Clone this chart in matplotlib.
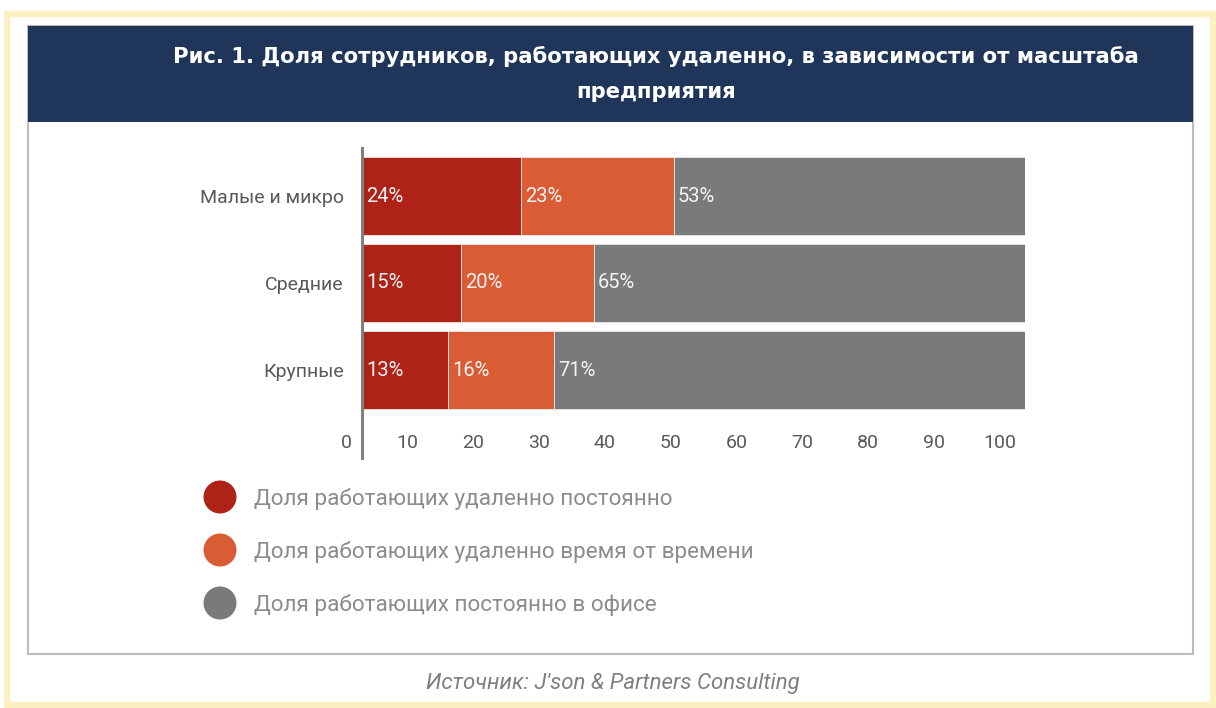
import numpy as np
import matplotlib.pyplot as plt
from matplotlib.patches import Rectangle, Ellipse

plt.rcParams['font.family'] = ['Liberation Sans Narrow', 'Roboto', 'DejaVu Sans']

# data
categories = ["Малые и микро", "Средние", "Крупные"]
remote_always = [24, 15, 13]
remote_sometimes = [23, 20, 16]
office_always = [53, 65, 71]
series_names = ["Доля работающих удаленно постоянно",
                "Доля работающих удаленно время от времени",
                "Доля работающих постоянно в офисе"]
tick_labels = ["0", "10", "20", "30", "40", "50", "60", "70", "80", "90", "100"]
title = "Рис. 1. Доля сотрудников, работающих удаленно, в зависимости от масштаба\nпредприятия"
source = "Источник: J'son & Partners Consulting"

colors = ["#AF2218", "#D95C35", "#7A7A7A"]
W, H = 1216, 708

fig = plt.figure(figsize=(W / 100, H / 100), dpi=100)
fig.patch.set_facecolor("white")

def fx(p):
    return p / W

def fy(p):
    return 1 - p / H

# outer yellow frame
fig.add_artist(Rectangle((fx(7), fy(705)), fx(1213) - fx(7), fy(14) - fy(705),
                         transform=fig.transFigure, fill=False, zorder=-10,
                         edgecolor="#FCEFC1", linewidth=4.5))
# gray box + title bar
fig.add_artist(Rectangle((fx(28), fy(654)), fx(1193) - fx(28), fy(26) - fy(654),
                         transform=fig.transFigure, facecolor="white", zorder=-10,
                         edgecolor="#BDBDBD", linewidth=1.5))
fig.add_artist(Rectangle((fx(28), fy(122)), fx(1193) - fx(28), fy(26) - fy(122),
                         transform=fig.transFigure, facecolor="#1F365A", zorder=-9,
                         edgecolor="#1F365A", linewidth=0))
fig.text(fx(656), fy(74), title, ha="center", va="center", color="white",
         fontsize=15.2, fontweight="bold", family="DejaVu Sans", linespacing=1.95)

# axes: 0..100 maps onto pixel 362..1025
ax = fig.add_axes([fx(362), fy(458), fx(1025) - fx(362), fy(148) - fy(458)])
y = np.arange(len(categories))
left = np.zeros(len(categories))
for vals, col in zip([remote_always, remote_sometimes, office_always], colors):
    ax.barh(y, vals, left=left, height=0.9, color=col, edgecolor="#E8E8E8", linewidth=0.6)
    for yi, v, l in zip(y, vals, left):
        ax.text(l + 0.6, yi, f"{v}%", ha="left", va="center", color="#F4F4F4", fontsize=14.5)
    left = left + np.array(vals)

ax.set_xlim(0, 100)
ax.set_ylim(2 + 88 / 87, -48 / 87)
ax.set_xticks([])
ax.set_yticks(y)
ax.set_yticklabels(categories, fontsize=14, color="#595959")
ax.tick_params(axis="y", length=0, pad=13)
for s in ["top", "right", "bottom"]:
    ax.spines[s].set_visible(False)
ax.spines["left"].set_color("#7F7F7F")
ax.spines["left"].set_linewidth(2.2)
ax.patch.set_alpha(0)

# x tick labels sit a little left of the true positions, as in the original
for i, lab in enumerate(tick_labels):
    pos = -2.3 if i == 0 else i * 9.93 - 3.1
    ax.text(pos, 0.048, lab, transform=ax.get_xaxis_transform(),
            ha="center", va="center", fontsize=14, color="#595959", clip_on=False)

# legend
for i, (name, col) in enumerate(zip(series_names, colors)):
    yy = 497 + i * 53
    fig.add_artist(Ellipse((fx(220), fy(yy)), 33 / W, 33 / H, transform=fig.transFigure,
                           facecolor=col, edgecolor="none"))
    fig.text(fx(254), fy(yy + 2), name, ha="left", va="center", fontsize=16.2, color="#8C8C8C")

fig.text(fx(613), fy(684), source, ha="center", va="center", fontsize=16,
         style="italic", color="#7F7F7F")

fig.savefig("out.png", dpi=100)
